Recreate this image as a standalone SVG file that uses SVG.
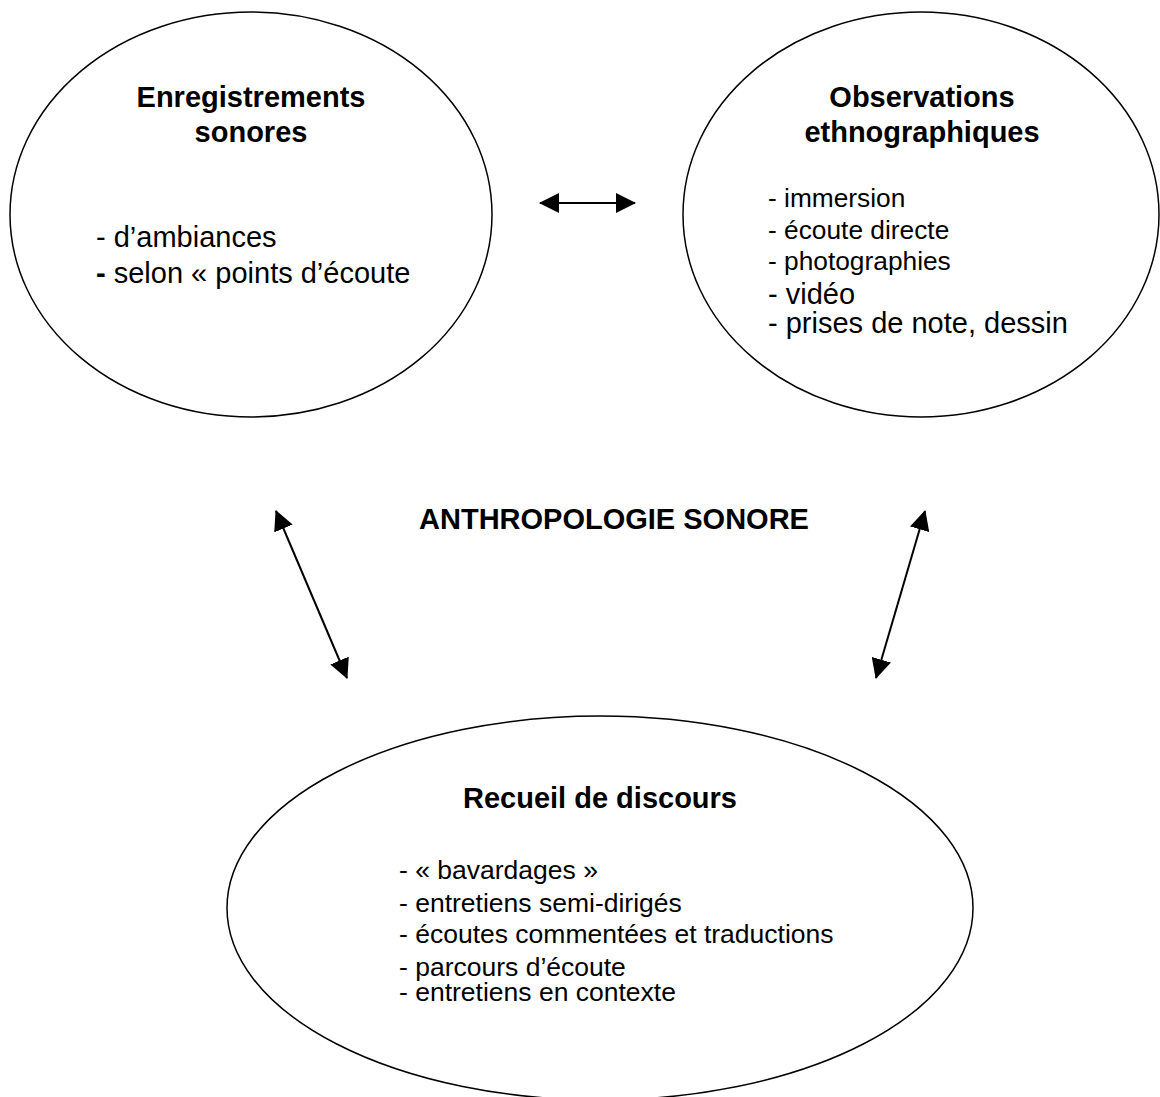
<svg xmlns="http://www.w3.org/2000/svg" width="1160" height="1097" viewBox="0 0 1160 1097">
  <style>
    .shape { fill: #ffffff; stroke: #000000; stroke-width: 1.5; }
    .head { font-family: "Liberation Sans", Arial, Helvetica, sans-serif; font-weight: bold; font-size: 29px; fill: #000; text-anchor: middle; }
    .item { font-family: "Liberation Sans", Arial, Helvetica, sans-serif; font-size: 26.3px; fill: #000; }
    .big { font-size: 29px; }
    .low { font-size: 26.5px; }
    .conn { stroke: #000; stroke-width: 2; fill: none; marker-start: url(#arrow); marker-end: url(#arrow); }
  </style>
  <defs>
    <marker id="arrow" viewBox="0 0 20 20" markerWidth="20" markerHeight="20" refX="19" refY="10" orient="auto-start-reverse" markerUnits="userSpaceOnUse">
      <path d="M0,0 L20,10 L0,20 z" fill="#000"/>
    </marker>
  </defs>
  <rect width="1160" height="1097" fill="#ffffff"/>

  <g id="enregistrements">
    <ellipse class="shape" cx="251" cy="214.5" rx="241" ry="202.5"/>
    <text class="head" x="251" y="107">Enregistrements</text>
    <text class="head" x="251" y="142">sonores</text>
    <text class="item big" x="96" y="247">- d’ambiances</text>
    <text class="item big" x="96" y="283"><tspan font-weight="bold">-</tspan> selon « points d’écoute</text>
  </g>

  <g id="observations">
    <ellipse class="shape" cx="921" cy="214.5" rx="238" ry="202.5"/>
    <text class="head" x="922" y="107">Observations</text>
    <text class="head" x="922" y="142">ethnographiques</text>
    <text class="item" x="768" y="207">- immersion</text>
    <text class="item" x="768" y="239">- écoute directe</text>
    <text class="item" x="768" y="270">- photographies</text>
    <text class="item big" x="768" y="304">- vidéo</text>
    <text class="item big" x="768" y="333">- prises de note, dessin</text>
  </g>

  <g id="titre">
    <text class="head" x="614" y="529">ANTHROPOLOGIE SONORE</text>
  </g>

  <g id="discours">
    <ellipse class="shape" cx="600" cy="908" rx="373" ry="192"/>
    <text class="head" x="600" y="808">Recueil de discours</text>
    <text class="item low" x="399" y="879">- « bavardages »</text>
    <text class="item low" x="399" y="912">- entretiens semi-dirigés</text>
    <text class="item low" x="399" y="943">- écoutes commentées et traductions</text>
    <text class="item low" x="399" y="976">- parcours d’écoute</text>
    <text class="item low" x="399" y="1001">- entretiens en contexte</text>
  </g>

  <g id="connectors">
    <line class="conn" x1="540" y1="203" x2="635" y2="203"/>
    <line class="conn" x1="276" y1="511" x2="347" y2="678"/>
    <line class="conn" x1="925" y1="511" x2="876" y2="678"/>
  </g>
</svg>
